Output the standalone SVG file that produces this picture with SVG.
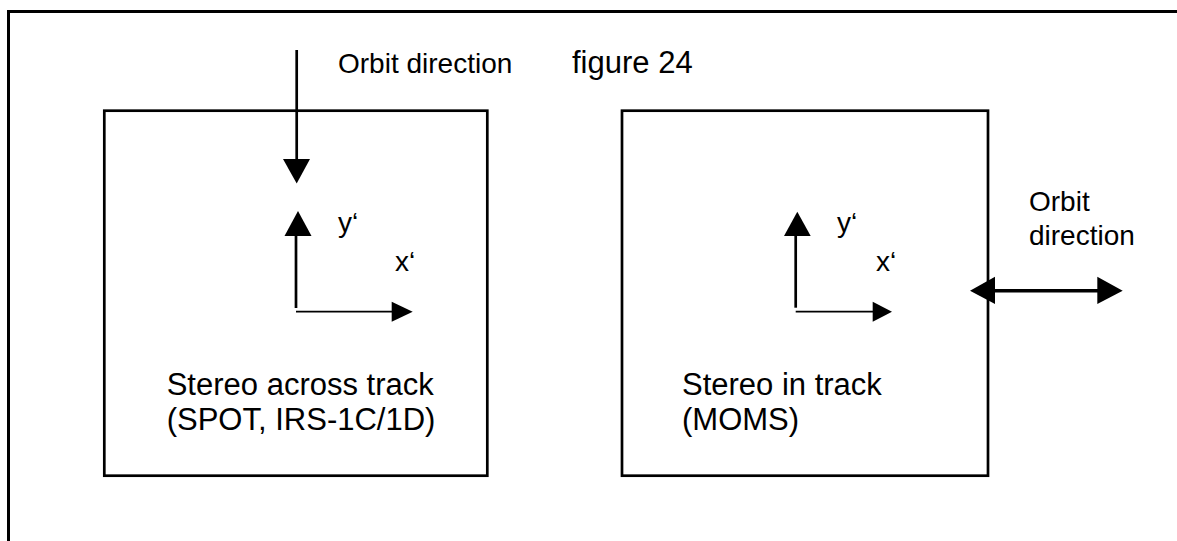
<svg xmlns="http://www.w3.org/2000/svg" width="1177" height="541" viewBox="0 0 1177 541">
  <style>
    .frame { fill: none; stroke: #000; stroke-width: 3; }
    .box { fill: none; stroke: #000; stroke-width: 2.7; }
    .shaft { stroke: #000; stroke-width: 2.7; fill: none; }
    .thin { stroke: #000; stroke-width: 1.8; fill: none; }
    .thick { stroke: #000; stroke-width: 3.4; fill: none; }
    .head { fill: #000; stroke: none; }
    .lbl { font-family: "Liberation Sans", Arial, sans-serif; font-size: 28px; fill: #000; }
    .big { font-family: "Liberation Sans", Arial, sans-serif; font-size: 31px; fill: #000; }
  </style>
  <rect width="1177" height="541" fill="#fff"/>

  <!-- outer page frame, running off the right and bottom edges -->
  <g id="frame">
    <rect class="frame" x="8.5" y="11.5" width="1180" height="540"/>
  </g>

  <!-- left panel: stereo across track -->
  <g id="panel-across">
    <rect class="box" x="104.3" y="110.7" width="383" height="365"/>
    <text class="big" x="166.7" y="395">Stereo across track</text>
    <text class="big" x="166.7" y="430">(SPOT, IRS-1C/1D)</text>
    <text class="lbl" x="338" y="232">y‘</text>
    <text class="lbl" x="395" y="271">x‘</text>
  </g>

  <!-- right panel: stereo in track -->
  <g id="panel-in">
    <rect class="box" x="622" y="110.7" width="366" height="365"/>
    <text class="big" x="682" y="395">Stereo in track</text>
    <text class="big" x="682" y="430">(MOMS)</text>
    <text class="lbl" x="837" y="232">y‘</text>
    <text class="lbl" x="876" y="271">x‘</text>
  </g>

  <!-- free labels -->
  <g id="label-orbit-top">
    <text class="lbl" x="338" y="72.7">Orbit direction</text>
  </g>
  <g id="label-figure">
    <text class="big" x="572" y="73">figure 24</text>
  </g>
  <g id="label-orbit-right">
    <text class="lbl" x="1029" y="210.7">Orbit</text>
    <text class="lbl" x="1029" y="245">direction</text>
  </g>

  <g id="connectors">
    <!-- orbit direction, across track (downwards) -->
    <line class="shaft" x1="296.7" y1="50" x2="296.7" y2="162"/>
    <polygon class="head" points="283,159 310,159 296.7,183.5"/>

    <!-- left axes -->
    <line class="shaft" x1="296" y1="233" x2="296" y2="308"/>
    <polygon class="head" points="284.5,236 311.5,236 298,211"/>
    <line class="thin" x1="296" y1="311.7" x2="394" y2="311.7"/>
    <polygon class="head" points="391.7,301.7 391.7,321.7 412.7,311.7"/>

    <!-- right axes -->
    <line class="shaft" x1="795.7" y1="233" x2="795.7" y2="307.7"/>
    <polygon class="head" points="784,236 810.7,236 797.3,211.7"/>
    <line class="thin" x1="795.7" y1="311.7" x2="874" y2="311.7"/>
    <polygon class="head" points="872.7,301.7 872.7,321.7 892,311.7"/>

    <!-- orbit direction, in track (both ways) -->
    <line class="thick" x1="993" y1="290.7" x2="1099" y2="290.7"/>
    <polygon class="head" points="995,276.7 995,304 970,290.7"/>
    <polygon class="head" points="1097.3,276.7 1097.3,304 1122.7,290.7"/>
  </g>
</svg>
